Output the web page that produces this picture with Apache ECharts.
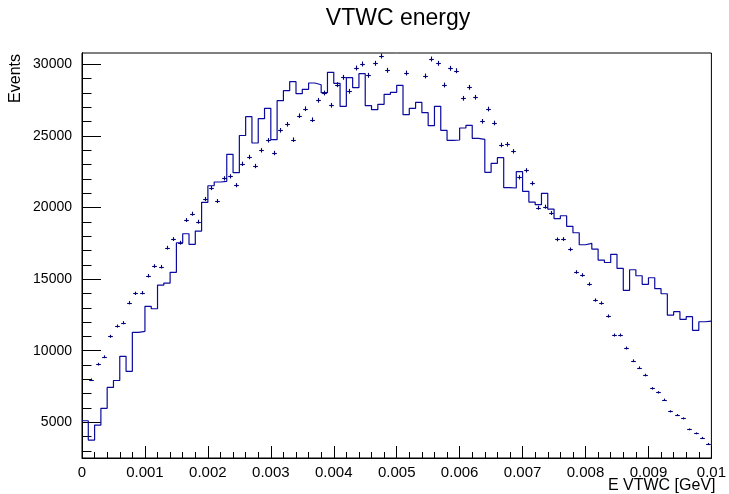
<!DOCTYPE html>
<html>
<head>
<meta charset="utf-8">
<title>VTWC energy</title>
<script src="https://cdn.jsdelivr.net/npm/echarts@6/dist/echarts.min.js"></script>
<style>
  html, body { margin: 0; padding: 0; background: #fff; }
  #chart { width: 729px; height: 494px; }
</style>
</head>
<body>
<div id="chart"></div>
<script>
// Binning of the energy axis: 100 bins from 0 to 0.01 GeV
const X_MIN = 0;
const X_MAX = 0.01;
const BIN_W = 0.0001;

// Histogram drawn as a solid step line (events per bin)
const histCounts = [
  5110, 3764, 4812, 5978, 7440, 7920, 9609, 8561, 11285, 11355,
  13101, 12933, 14588, 14728, 15475, 17542, 18170, 17430, 18359, 20363,
  21522, 21781, 21830, 23715, 22430, 25030, 26341, 24504, 26201, 26927,
  24735, 27458, 28156, 28785, 27947, 28254, 28694, 28575, 28017, 29441,
  28673, 27067, 29064, 28366, 29344, 27109, 26830, 27207, 27905, 28045,
  28534, 26480, 26927, 27346, 26620, 25712, 27067, 25391, 24693, 24714,
  25552, 25740, 24832, 24763, 22458, 23087, 23478, 21383, 21362, 22500,
  21131, 20384, 20196, 20992, 19895, 19218, 19427, 18687, 18240, 17402,
  17500, 17102, 16334, 16160, 16732, 15754, 14218, 15656, 15237, 14637,
  15098, 14330, 13980, 12493, 12724, 12193, 12375, 11425, 12025, 12074
];

// Second distribution drawn as error-bar crosses (null = no point shown)
const pointCounts = [
  null, 7975, 9060, 9581, 11006, 11725, 11955, 13352, 14008, 14050,
  15237, 15915, 15866, 17193, 17800, 17542, 19127, 19567, 19008, 20594,
  21362, 20454, 22039, 22179, 21560, 23050, 23526, 22898, 23994, 24693,
  23806, 25391, 25810, 24735, 26411, 26899, 26131, 27486, 27996, 27137,
  28575, 29092, 28115, 29742, 30021, 29232, 30070, 30580, 29581, 31000,
  31200, 29392, 31100, 31000, 29183, 30370, 30070, 28554, 29721, 29553,
  27626, 28394, 27696, 26020, 26878, 25901, 24364, 24413, 23925, 22109,
  22598, 21690, 19986, 20056, 19616, 17779, 17800, 17081, 15496, 15286,
  14658, 13540, 13331, 12423, 11096, 11096, 10188, 9302, 8813, 8303,
  7374, 7095, 6578, 5768, 5509, 5279, 4511, 4232, 3925, 3506
];

// Axis tick labels
const xTickLabels = ['0', '0.001', '0.002', '0.003', '0.004', '0.005',
                     '0.006', '0.007', '0.008', '0.009', '0.01'];
const yMajorTicks = [5000, 10000, 15000, 20000, 25000, 30000];
const yMinorTicks = [3000, 4000, 5000, 6000, 7000, 8000, 9000, 10000, 11000, 12000,
                     13000, 14000, 15000, 16000, 17000, 18000, 19000, 20000, 21000,
                     22000, 23000, 24000, 25000, 26000, 27000, 28000, 29000, 30000];

const Y_MIN = 2510;
const Y_MAX = 30790;

const FONT = 'Liberation Sans, Arial, Helvetica, sans-serif';
const LINE_COLOR = '#0a0a9e';
const POINT_COLOR = '#000078';

// Step-line vertices: left edge of every bin, plus the right edge of the last one
const stepData = histCounts.map((v, i) => [X_MIN + i * BIN_W, v]);
stepData.push([X_MAX, histCounts[histCounts.length - 1]]);

// Cross markers at bin centres
const pointData = [];
pointCounts.forEach((v, i) => {
  if (v !== null) pointData.push([X_MIN + (i + 0.5) * BIN_W, v]);
});

function renderCross(params, api) {
  const x = api.value(0);
  const y = api.value(1);
  const c = api.coord([x, y]);
  const half = api.size([BIN_W, 0])[0] * 0.37;
  const err = Math.sqrt(y);
  const yTop = api.coord([x, y + err])[1];
  const yBot = api.coord([x, y - err])[1];
  const cx = Math.round(c[0]) + 0.5;
  const cy = Math.round(c[1]) + 0.5;
  const style = { stroke: POINT_COLOR, lineWidth: 1.1 };
  return {
    type: 'group',
    children: [
      { type: 'line', shape: { x1: cx - half, y1: cy, x2: cx + half, y2: cy }, style: style },
      { type: 'line', shape: { x1: cx, y1: yTop, x2: cx, y2: yBot }, style: style }
    ]
  };
}

const chart = echarts.init(document.getElementById('chart'), null, { renderer: 'canvas' });

const baseYAxis = {
  type: 'value',
  min: Y_MIN,
  max: Y_MAX,
  position: 'left',
  splitLine: { show: false },
  axisLine: { show: true, lineStyle: { color: '#000', width: 1 } }
};

chart.setOption({
  animation: false,
  backgroundColor: '#fff',
  grid: {
    left: 82, right: 13, top: 53, bottom: 36,
    show: true, borderColor: '#000', borderWidth: 1, backgroundColor: 'transparent'
  },
  xAxis: {
    type: 'value',
    min: X_MIN,
    max: X_MAX,
    interval: 0.001,
    splitLine: { show: false },
    axisLine: { show: true, lineStyle: { color: '#000', width: 1 } },
    axisTick: { show: true, inside: true, length: 12, lineStyle: { color: '#000' } },
    minorTick: { show: true, splitNumber: 5, length: 6, lineStyle: { color: '#000' } },
    minorSplitLine: { show: false },
    axisLabel: {
      color: '#000', fontFamily: FONT, fontSize: 15, margin: 7,
      formatter: v => xTickLabels[Math.round((v - X_MIN) / 0.001)]
    }
  },
  yAxis: [
    Object.assign({}, baseYAxis, {
      axisTick: { show: true, inside: true, length: 9.5, customValues: yMinorTicks,
                  lineStyle: { color: '#000' } },
      axisLabel: { show: false }
    }),
    Object.assign({}, baseYAxis, {
      axisTick: { show: true, inside: true, length: 19, customValues: yMajorTicks,
                  lineStyle: { color: '#000' } },
      axisLabel: {
        show: true, customValues: yMajorTicks, color: '#000', fontFamily: FONT,
        fontSize: 14, margin: 10, formatter: v => String(v)
      }
    })
  ],
  series: [
    {
      type: 'line',
      data: stepData,
      step: 'end',
      showSymbol: false,
      symbol: 'none',
      clip: true,
      lineStyle: { color: LINE_COLOR, width: 1.2 },
      yAxisIndex: 0,
      z: 3
    },
    {
      type: 'custom',
      data: pointData,
      renderItem: renderCross,
      clip: true,
      yAxisIndex: 0,
      z: 4
    }
  ],
  graphic: [
    {
      type: 'text', x: 398, y: 19,
      style: { text: 'VTWC energy', font: '23px ' + FONT, fill: '#000',
               textAlign: 'center', textVerticalAlign: 'middle' }
    },
    {
      type: 'text', x: 715.5, y: 486,
      style: { text: 'E VTWC [GeV]', font: '16px ' + FONT, fill: '#000',
               textAlign: 'right', textVerticalAlign: 'middle' }
    },
    {
      type: 'text', x: 16, y: 54, rotation: Math.PI / 2,
      style: { text: 'Events', font: '16px ' + FONT, fill: '#000',
               textAlign: 'right', textVerticalAlign: 'middle' }
    }
  ]
});
</script>
</body>
</html>
